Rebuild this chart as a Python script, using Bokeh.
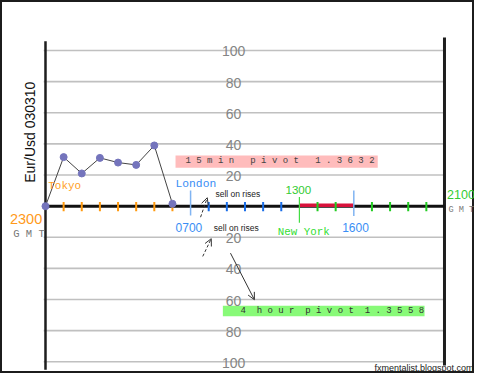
import math
from bokeh.plotting import figure
from bokeh.models import Range1d, Arrow, OpenHead
from bokeh.core.properties import value
from bokeh.embed import file_html
from bokeh.resources import INLINE

NB = "\u00a0"

# ---------------- data ----------------
hours = [0, 1, 2, 3, 4, 5, 6, 7]                 # hours after 2300 GMT
pips = [0, 31.5, 21, 31, 28, 26.5, 39, 1.5]      # Tokyo session path
grid_vals = [100, 80, 60, 40, 20, -20, -40, -60, -80, -100]
grid_labels = ["100", "80", "60", "40", "20", "20", "40", "60", "80", "100"]
tokyo_ticks = [1, 2, 3, 4, 5, 6, 7]
london_ticks = [9, 10, 11, 12, 13]
ny_ticks = [15, 16]
late_ticks = [18, 19, 20, 21]
london_open = 8
ny_open = 14
london_close = 17
day_end = 22
pivot_15m = "1.3632"
pivot_4h = "1.3558"

MONO = value("Liberation Mono")
SANS = value("Liberation Sans")

p = figure(width=474, height=373, x_range=Range1d(-2.481, 23.655),
           y_range=Range1d(-107.52, 132.12), output_backend="svg",
           toolbar_location=None, x_axis_type=None, y_axis_type=None,
           min_border=0, title=None)
p.outline_line_color = "#1c1c1c"
p.outline_line_width = 3
p.background_fill_color = "white"
p.border_fill_color = "white"

# gridlines
p.segment(x0=[-0.1] * len(grid_vals), y0=grid_vals, x1=[day_end] * len(grid_vals),
          y1=grid_vals, line_color="#c0c0c0", line_width=1.6)

# pivot boxes
p.quad(left=[7.17], right=[18.32], top=[32.6], bottom=[24.7],
       fill_color="#ffbcbc", line_color=None)
p.quad(left=[9.78], right=[20.90], top=[-64.0], bottom=[-70.7],
       fill_color="#88fa78", line_color=None)

pink_text = (NB * 3).join(NB.join(w) for w in ["15min", "pivot", pivot_15m])
green_text = (NB * 2).join(NB.join(w) for w in ["4", "hour", "pivot", pivot_4h])
p.text(x=[7.72], y=[28.7], text=[pink_text], text_font=MONO, text_font_size="9px",
       text_color="#444444", text_baseline="middle", text_align="left")
p.text(x=[10.75], y=[-67.3], text=[green_text], text_font=MONO, text_font_size="9px",
       text_color="#333333", text_baseline="middle", text_align="left")

# y labels
p.text(x=[10.37] * len(grid_vals), y=grid_vals, text=grid_labels, text_font=SANS,
       text_font_size="14px", text_color="#858585", text_align="center",
       text_baseline="middle", y_offset=1)

# left and right vertical bars
p.segment(x0=[0], y0=[106], x1=[0], y1=[-105.1], line_color="#1e1e1e", line_width=2.5)
p.segment(x0=[day_end], y0=[108.4], x1=[day_end], y1=[-102.3], line_color="#1e1e1e", line_width=3)

# main time axis
p.segment(x0=[0], y0=[0], x1=[day_end], y1=[0], line_color="#111111", line_width=3)
p.segment(x0=[ny_open], y0=[0.6], x1=[london_close], y1=[0.6], line_color="#d8123c", line_width=3.5)

# hourly ticks
def ticks(xs, color):
    p.segment(x0=xs, y0=[2.6] * len(xs), x1=xs, y1=[-3.2] * len(xs),
              line_color=color, line_width=2)

ticks(tokyo_ticks, "#ff9a10")
ticks(london_ticks, "#1a6ee8")
ticks(ny_ticks, "#22cc22")
ticks(late_ticks, "#22cc22")

# session markers
p.segment(x0=[london_open, london_close], y0=[10.1, 10.1], x1=[london_open, london_close],
          y1=[-6.0, -6.4], line_color="#80b4f2", line_width=1.5)
p.segment(x0=[ny_open], y0=[5.8], x1=[ny_open], y1=[-10.7], line_color="#44dd44", line_width=1.2)

# price path
p.line(hours, pips, line_color="#444444", line_width=1)
p.scatter(hours, pips, size=7, fill_color="#7474bc", line_color="#7474bc")

# session labels
p.text(x=[0.15], y=[12.8], text=["Tokyo"], text_font=MONO, text_font_size="11px",
       text_color="#ff9f26", text_baseline="middle")
p.text(x=[7.17], y=[14.4], text=["London"], text_font=MONO, text_font_size="11.3px",
       text_color="#3a8ef5", text_baseline="middle")
p.text(x=[12.81], y=[-16.7], text=["New York"], text_font=MONO, text_font_size="10.8px",
       text_color="#33dd33", text_baseline="middle")

# times
p.text(x=[-0.18], y=[-8.1], text=["2300"], text_font=SANS, text_font_size="14.5px",
       text_color="#ff9a1a", text_baseline="middle", text_align="right")
p.text(x=[7.17, 16.36], y=[-13.9, -13.9], text=["0700", "1600"], text_font=SANS,
       text_font_size="12px", text_color="#3a8ef5", text_baseline="middle")
p.text(x=[13.23], y=[10.1], text=["1300"], text_font=SANS, text_font_size="11.6px",
       text_color="#33cc33", text_baseline="middle")
p.text(x=[22.14], y=[7.5], text=["2100"], text_font=SANS, text_font_size="12.5px",
       text_color="#33cc33", text_baseline="middle")
gmt = NB.join("GMT")
p.text(x=[-1.78], y=[-17.7], text=[gmt], text_font=MONO, text_font_size="10.5px",
       text_color="#777777", text_baseline="middle")
p.text(x=[22.22], y=[-2.3], text=[gmt], text_font=MONO, text_font_size="8.6px",
       text_color="#777777", text_baseline="middle")

# notes
p.text(x=[9.37, 9.28], y=[7.5, -14.1], text=["sell on rises", "sell on rises"],
       text_font=SANS, text_font_size="8.5px", text_color="#222222", text_baseline="middle")

arrows_x0 = [8.55, 8.67, 10.2]
arrows_y0 = [-7.1, -32.3, -30.2]
arrows_x1 = [8.92, 9.14, 11.52]
arrows_y1 = [5.4, -20.9, -60.1]
dashes = ["3 2", "3 2", "solid"]
for x0, y0, x1, y1, d in zip(arrows_x0, arrows_y0, arrows_x1, arrows_y1, dashes):
    p.add_layout(Arrow(end=OpenHead(size=7, line_color="#333333", line_width=1),
                       x_start=x0, y_start=y0, x_end=x1, y_end=y1,
                       line_color="#333333", line_width=1, line_dash=d))

p.text(x=[-0.83], y=[47.5], text=["Eur/Usd 030310"], angle=math.pi / 2,
       text_font=SANS, text_font_size="14px", text_color="#111111",
       text_align="center", text_baseline="middle")
p.text(x=[23.60], y=[-104.2], text=["fxmentalist.blogspot.com"], text_font=SANS,
       text_font_size="9px", text_color="#222222", text_align="right",
       text_baseline="middle")

open("out.html", "w").write(file_html(p, INLINE))
